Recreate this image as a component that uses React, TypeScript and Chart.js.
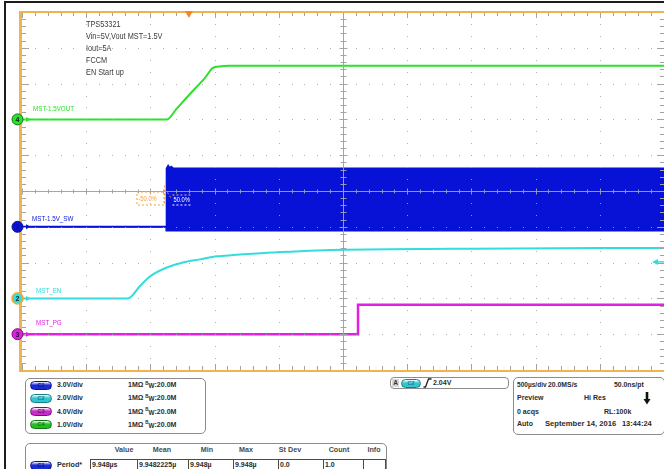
import React, { useEffect, useRef } from "react";
import { Chart, registerables } from "chart.js";

Chart.register(...registerables);

const FONT = '"Liberation Sans", Arial, Helvetica, sans-serif';
const PAGE_W = 664;
const PAGE_H = 469;
const PLOT_H = 376;

// Timebase and graticule: 10 x 10 divisions, 500 µs/div
const timePerDivUs = 500;
const horizontalDivs = 10;
const verticalDivs = 10;

// Channels C1..C4
const channelLabels = ["MST-1.5V_SW", "MST_EN", "MST_PG", "MST-1.5VOUT"];
const channelVoltsPerDiv = [3.0, 2.0, 4.0, 1.0];
const channelOffsetDivs = [-1, -3, -4, 2];
const channelColors = ["#0712d6", "#34dcdc", "#e21fe2", "#29e229"];
const badgeColors = ["#1b2bd6", "#2ec6cf", "#c92ac9", "#22bf22"];
const badgeEdges = ["#0a1090", "#177f86", "#751075", "#127212"];

// C1 switch node: min / max envelope of the switching waveform (V) vs time (µs)
const swTimesUs = [0, 1125, 1125, 1138, 1150, 1162, 1180, 5000];
const swMaxV = [0, 0, 4.9, 5.15, 4.95, 5.05, 4.9, 4.9];
const swMinV = [0, 0, -0.3, -0.3, -0.3, -0.3, -0.3, -0.3];

// C2 enable pin (V) vs time (µs)
const enTimesUs = [0, 826, 919, 997, 1129, 1254, 1386, 1519, 1643, 1908, 2165, 2399, 3333, 4501, 5000];
const enVolts = [0, 0, 0.69, 1.23, 1.73, 2.01, 2.18, 2.35, 2.42, 2.55, 2.64, 2.7, 2.77, 2.82, 2.82];

// C3 power good (V) vs time (µs)
const pgTimesUs = [0, 2617, 2617, 5000];
const pgVolts = [0, 0, 3.3, 3.3];

// C4 output voltage (V) vs time (µs)
const voutTimesUs = [0, 1129, 1200, 1308, 1425, 1487, 1542, 1604, 5000];
const voutVolts = [0, 0, 0.28, 0.71, 1.16, 1.44, 1.48, 1.5, 1.5];

// Trigger: C2 rising edge
const triggerLevelV = 2.04;
const triggerTimeUs = 1300;

const noteLines = ["TPS53321", "Vin=5V,Vout MST=1.5V", "Iout=5A", "FCCM", "EN Start up"];

// Measurement table
const measureHeaders = ["Value", "Mean", "Min", "Max", "St Dev", "Count", "Info"];
const periodStats = ["9.948µs", "9.9482225µ", "9.948µ", "9.948µ", "0.0", "1.0", ""];

const toDiv = (ch: number, v: number) => channelOffsetDivs[ch] + v / channelVoltsPerDiv[ch];
const series = (ch: number, times: number[], volts: number[]) =>
  times.map((t, i) => ({ x: t, y: toDiv(ch, volts[i]) }));

function drawText(
  ctx: CanvasRenderingContext2D,
  text: string,
  x: number,
  y: number,
  size: number,
  color: string,
  sx = 0.86,
  weight = "normal"
) {
  ctx.save();
  ctx.translate(x, y);
  ctx.scale(sx, 1);
  ctx.font = `${weight} ${size}px ${FONT}`;
  ctx.fillStyle = color;
  ctx.textBaseline = "middle";
  ctx.textAlign = "left";
  ctx.fillText(text, 0, 0);
  ctx.restore();
}

function seg(ctx: CanvasRenderingContext2D, x1: number, y1: number, x2: number, y2: number) {
  ctx.beginPath();
  ctx.moveTo(x1, y1);
  ctx.lineTo(x2, y2);
  ctx.stroke();
}

// Graticule, frame, channel markers and annotations drawn over the traces
const scopeOverlay = {
  id: "scopeOverlay",
  afterDatasetsDraw(chart: any) {
    const ctx: CanvasRenderingContext2D = chart.ctx;
    const a = chart.chartArea;
    const xs = chart.scales.x;
    const ys = chart.scales.y;
    const px = (t: number) => xs.getPixelForValue(t);
    const py = (d: number) => ys.getPixelForValue(d);
    const tMax = horizontalDivs * timePerDivUs;
    const halfV = verticalDivs / 2;
    ctx.save();

    // dotted division lines
    ctx.fillStyle = "rgba(165,165,165,0.9)";
    for (let i = 1; i < horizontalDivs; i++) {
      if (i === horizontalDivs / 2) continue;
      const gx = Math.round(px(i * timePerDivUs));
      for (let k = 1; k < verticalDivs * 3; k++) {
        ctx.fillRect(gx, Math.round(py(-halfV + k / 3)), 1, 1);
      }
    }
    for (let j = 1; j < verticalDivs; j++) {
      if (j === verticalDivs / 2) continue;
      const gy = Math.round(py(-halfV + j));
      for (let k = 1; k < horizontalDivs * 5; k++) {
        ctx.fillRect(Math.round(px((k * timePerDivUs) / 5)), gy, 1, 1);
      }
    }

    // centre cross with minor ticks
    ctx.lineWidth = 1;
    ctx.strokeStyle = "rgba(160,160,170,0.95)";
    const cx = Math.round(px(tMax / 2)) + 0.5;
    const cy = Math.round(py(0)) + 0.5;
    seg(ctx, a.left, cy, a.right, cy);
    seg(ctx, cx, a.top, cx, a.bottom);
    for (let k = 0; k <= horizontalDivs * 5; k++) {
      const x = Math.round(px((k * timePerDivUs) / 5)) + 0.5;
      const l = k % 5 === 0 ? 3 : 2;
      seg(ctx, x, cy - l, x, cy + l);
    }
    for (let k = 0; k <= verticalDivs * 5; k++) {
      const y = Math.round(py(-halfV + k / 5)) + 0.5;
      const l = k % 5 === 0 ? 4 : 3;
      seg(ctx, cx - l, y, cx + l, y);
    }

    // edge ticks
    ctx.strokeStyle = "#a2a2a2";
    for (let k = 0; k <= horizontalDivs * 5; k++) {
      const x = Math.round(px((k * timePerDivUs) / 5)) + 0.5;
      const l = k % 5 === 0 ? 6 : 4;
      seg(ctx, x, a.top, x, a.top + l);
      seg(ctx, x, a.bottom, x, a.bottom - l);
    }
    for (let k = 0; k <= verticalDivs * 5; k++) {
      const y = Math.round(py(-halfV + k / 5)) + 0.5;
      const l = k % 5 === 0 ? 7 : 4;
      seg(ctx, a.left, y, a.left + l, y);
      seg(ctx, a.right, y, a.right - l, y);
    }

    // orange frame
    ctx.fillStyle = "#f1b250";
    ctx.fillRect(a.left - 3, a.top - 1, 3, a.bottom - a.top + 3);
    ctx.fillRect(a.left - 3, a.top - 1, a.right - a.left + 3, 2);
    ctx.fillRect(a.left - 3, a.bottom, a.right - a.left + 3, 2);

    // trigger position
    const tx = px(triggerTimeUs);
    ctx.fillStyle = "#f08626";
    ctx.beginPath();
    ctx.moveTo(tx - 4, a.top - 1);
    ctx.lineTo(tx + 4, a.top - 1);
    ctx.lineTo(tx, a.top + 6);
    ctx.closePath();
    ctx.fill();

    // trigger level on C2
    const ly = py(toDiv(1, triggerLevelV));
    ctx.fillStyle = channelColors[1];
    ctx.strokeStyle = channelColors[1];
    ctx.lineWidth = 1.5;
    ctx.beginPath();
    ctx.moveTo(a.right - 12, ly);
    ctx.lineTo(a.right - 6, ly - 3);
    ctx.lineTo(a.right - 6, ly + 3);
    ctx.closePath();
    ctx.fill();
    seg(ctx, a.right - 7, ly, a.right, ly);

    // channel ground markers and labels
    const labelPos = [
      [32, -8],
      [36, -7.5],
      [36, -11.5],
      [33, -10.5],
    ];
    channelColors.forEach((c, ch) => {
      const my = py(channelOffsetDivs[ch]);
      const mx = a.left - 4.5;
      ctx.beginPath();
      ctx.arc(mx, my, 5.5, 0, Math.PI * 2);
      ctx.fillStyle = c;
      ctx.fill();
      ctx.lineWidth = ch === 1 ? 1.6 : 1;
      ctx.strokeStyle = ch === 1 ? "#f0aa38" : badgeEdges[ch];
      ctx.stroke();
      ctx.font = `bold 7px ${FONT}`;
      ctx.fillStyle = ch === 0 ? "#06108a" : "#10202a";
      ctx.textAlign = "center";
      ctx.textBaseline = "middle";
      ctx.fillText(String(ch + 1), mx, my + 0.5);
      ctx.beginPath();
      ctx.moveTo(a.left + 4, my - 2.5);
      ctx.lineTo(a.left + 4, my + 2.5);
      ctx.lineTo(a.left + 8.5, my);
      ctx.closePath();
      ctx.fillStyle = c;
      ctx.fill();
      drawText(ctx, channelLabels[ch], labelPos[ch][0], my + labelPos[ch][1], 7.2, c, 0.87);
    });

    // setup notes
    noteLines.forEach((line, i) => {
      drawText(ctx, line, a.left + 64, a.top + 13 + i * 12, 8.5, "#3a3a3a", 0.86);
    });

    // rise-time cursor readouts at the switching edge
    const ex = px(swTimesUs[1]);
    ctx.setLineDash([2, 2]);
    ctx.lineWidth = 1;
    ctx.strokeStyle = "#f0a040";
    ctx.strokeRect(ex - 29.5, cy + 0.5, 27, 13);
    seg(ctx, ex - 2, cy - 6, ex - 2, cy + 13);
    seg(ctx, ex + 1, cy + 1, ex + 5, cy + 7);
    drawText(ctx, "-50.0%", ex - 28, cy + 8, 6.8, "#f0a040", 0.85);
    ctx.strokeStyle = "#ffffff";
    seg(ctx, ex + 6, cy + 13.5, ex + 26, cy + 13.5);
    ctx.strokeStyle = "#f0c080";
    seg(ctx, ex + 6, cy + 3.5, ex + 26, cy + 3.5);
    ctx.setLineDash([]);
    drawText(ctx, "50.0%", ex + 7, cy + 8.5, 6.8, "#ffffff", 0.85);

    ctx.restore();
  },
};

type TxtProps = {
  x: number;
  y: number;
  size?: number;
  bold?: boolean;
  color?: string;
  sx?: number;
  align?: "left" | "center" | "right";
  children: React.ReactNode;
};

function Txt({ x, y, size = 7.8, bold = true, color = "#2b2b2b", sx = 0.9, align = "left", children }: TxtProps) {
  const lh = Math.round(size * 1.3);
  const s: React.CSSProperties = {
    position: "absolute",
    top: y - lh / 2,
    height: lh,
    lineHeight: `${lh}px`,
    fontSize: size,
    fontWeight: bold ? 700 : 400,
    color,
    whiteSpace: "nowrap",
    fontFamily: FONT,
  };
  if (align === "left") {
    s.left = x;
    s.transformOrigin = "0 50%";
    s.transform = `scaleX(${sx})`;
  } else if (align === "right") {
    s.right = PAGE_W - x;
    s.transformOrigin = "100% 50%";
    s.transform = `scaleX(${sx})`;
  } else {
    s.left = x;
    s.transformOrigin = "50% 50%";
    s.transform = `translateX(-50%) scaleX(${sx})`;
  }
  return <span style={s}>{children}</span>;
}

function Badge({ x, y, ch, w = 22 }: { x: number; y: number; ch: number; w?: number }) {
  const h = 9;
  return (
    <div
      style={{
        position: "absolute",
        left: x,
        top: y - h / 2,
        width: w,
        height: h,
        borderRadius: h / 2,
        boxSizing: "border-box",
        border: `1px solid ${badgeEdges[ch]}`,
        background: `linear-gradient(to bottom, #ffffff 0%, ${badgeColors[ch]} 45%, ${badgeColors[ch]} 100%)`,
        fontFamily: FONT,
        fontSize: 5.5,
        fontWeight: 700,
        lineHeight: `${h - 2}px`,
        textAlign: "center",
        color: badgeEdges[ch],
      }}
    >
      {`C${ch + 1}`}
    </div>
  );
}

const box = (l: number, t: number, w: number, h: number, r = 5): React.CSSProperties => ({
  position: "absolute",
  left: l,
  top: t,
  width: w,
  height: h,
  border: "1px solid #8c8c8c",
  borderRadius: r,
  boxSizing: "border-box",
  background: "#fff",
});

const chanRowYs = [385, 398, 411.5, 424.5];
const headerXs = [124, 162, 207, 246, 290, 339, 374];
const cellEdges = [90, 137, 188, 233, 278, 323, 363, 385];

export default function App() {
  const canvasRef = useRef<HTMLCanvasElement>(null);

  useEffect(() => {
    const canvas = canvasRef.current;
    if (!canvas) return;
    const chart = new Chart(canvas, {
      type: "line",
      data: {
        datasets: [
          {
            label: "C4",
            data: series(3, voutTimesUs, voutVolts),
            borderColor: channelColors[3],
            borderWidth: 2,
            cubicInterpolationMode: "monotone",
            fill: false,
          },
          {
            label: "C3",
            data: series(2, pgTimesUs, pgVolts),
            borderColor: channelColors[2],
            borderWidth: 2.5,
            fill: false,
          },
          {
            label: "C2",
            data: series(1, enTimesUs, enVolts),
            borderColor: channelColors[1],
            borderWidth: 2,
            cubicInterpolationMode: "monotone",
            fill: false,
          },
          {
            label: "C1 max",
            data: series(0, swTimesUs, swMaxV),
            borderColor: channelColors[0],
            backgroundColor: channelColors[0],
            borderWidth: 1.5,
            fill: "+1",
          },
          {
            label: "C1 min",
            data: series(0, swTimesUs, swMinV),
            borderColor: channelColors[0],
            borderWidth: 2,
            fill: false,
          },
        ],
      },
      options: {
        animation: false,
        responsive: false,
        devicePixelRatio: 1,
        events: [],
        layout: { padding: { left: 22, right: 0, top: 12, bottom: PLOT_H - 370 } },
        elements: { point: { radius: 0 }, line: { tension: 0 } },
        plugins: { legend: { display: false }, tooltip: { enabled: false } },
        scales: {
          x: { type: "linear", min: 0, max: horizontalDivs * timePerDivUs, display: false },
          y: { type: "linear", min: -verticalDivs / 2, max: verticalDivs / 2, display: false },
        },
      },
      plugins: [scopeOverlay],
    } as any);
    return () => chart.destroy();
  }, []);

  return (
    <div
      style={{
        position: "fixed",
        left: 0,
        top: 0,
        width: PAGE_W,
        height: PAGE_H,
        overflow: "hidden",
        background: "#fff",
        fontFamily: FONT,
      }}
    >
      <div
        style={{
          position: "absolute",
          left: 4,
          top: 1,
          width: PAGE_W + 20,
          height: PAGE_H + 20,
          border: "2px solid #1c1c1c",
          boxSizing: "border-box",
        }}
      />
      <canvas
        ref={canvasRef}
        width={PAGE_W}
        height={PLOT_H}
        style={{ position: "absolute", left: 0, top: 0, width: PAGE_W, height: PLOT_H }}
      />

      {/* vertical settings */}
      <div style={box(25, 378, 181, 56)} />
      {channelVoltsPerDiv.map((v, i) => (
        <React.Fragment key={i}>
          <Badge x={30} y={chanRowYs[i]} ch={i} />
          <Txt x={57} y={chanRowYs[i]} sx={0.88}>
            {v.toFixed(1)}V/div
          </Txt>
          <Txt x={128} y={chanRowYs[i]} sx={0.9}>
            1MΩ <span style={{ fontSize: 5, position: "relative", top: -2.5 }}>B</span>
            <span style={{ fontSize: 7, position: "relative", top: 1 }}>W</span>:20.0M
          </Txt>
        </React.Fragment>
      ))}

      {/* trigger */}
      <div style={box(390, 377, 119, 12, 4)} />
      <div
        style={{
          position: "absolute",
          left: 392,
          top: 379,
          width: 7,
          height: 8,
          background: "#d6d6d6",
          fontSize: 6.5,
          fontWeight: 700,
          lineHeight: "8px",
          textAlign: "center",
          color: "#333",
          fontFamily: FONT,
        }}
      >
        A
      </div>
      <Badge x={401} y={383} ch={1} w={20} />
      <svg style={{ position: "absolute", left: 423, top: 378 }} width={9} height={10}>
        <polyline points="0.5,9 2.5,9 5.5,1 8.5,1" fill="none" stroke="#222" strokeWidth={1.3} />
      </svg>
      <Txt x={433} y={383}>
        2.04V
      </Txt>

      {/* horizontal / acquisition */}
      <div style={box(513, 377, 152, 58)} />
      <Txt x={517} y={385} sx={0.84}>
        500µs/div
      </Txt>
      <Txt x={548} y={385} sx={0.88}>
        20.0MS/s
      </Txt>
      <Txt x={614} y={385} sx={0.88}>
        50.0ns/pt
      </Txt>
      <Txt x={517} y={398.3} sx={0.9}>
        Preview
      </Txt>
      <Txt x={584} y={398.3} sx={0.9}>
        Hi Res
      </Txt>
      <svg style={{ position: "absolute", left: 643, top: 392 }} width={8} height={13}>
        <rect x={2.7} y={0} width={2.6} height={8} fill="#111" />
        <polygon points="0.5,7 7.5,7 4,12.5" fill="#111" />
      </svg>
      <Txt x={517} y={411.7} sx={0.9}>
        0 acqs
      </Txt>
      <Txt x={604} y={411.7} sx={0.9}>
        RL:100k
      </Txt>
      <Txt x={517} y={424.3} sx={0.9}>
        Auto
      </Txt>
      <Txt x={545} y={424.3} sx={0.98}>
        September 14, 2016
      </Txt>
      <Txt x={622} y={424.3} sx={0.95}>
        13:44:24
      </Txt>

      {/* measurements */}
      <div style={box(25, 443, 362, 40)} />
      {measureHeaders.map((h, i) => (
        <Txt key={h} x={headerXs[i]} y={450} align="center" color="#4a4a4a" sx={0.92}>
          {h}
        </Txt>
      ))}
      <Badge x={30} y={465} ch={0} />
      <Txt x={57} y={465} sx={0.92}>
        Period*
      </Txt>
      {periodStats.map((v, i) => (
        <div
          key={i}
          style={{
            position: "absolute",
            left: cellEdges[i],
            top: 459,
            width: cellEdges[i + 1] - cellEdges[i] + 1,
            height: 20,
            border: "1px solid #4a4a4a",
            boxSizing: "border-box",
          }}
        />
      ))}
      {periodStats.map((v, i) =>
        v ? (
          <Txt key={`v${i}`} x={cellEdges[i] + 2} y={465} sx={0.9}>
            {v}
          </Txt>
        ) : null
      )}
    </div>
  );
}
